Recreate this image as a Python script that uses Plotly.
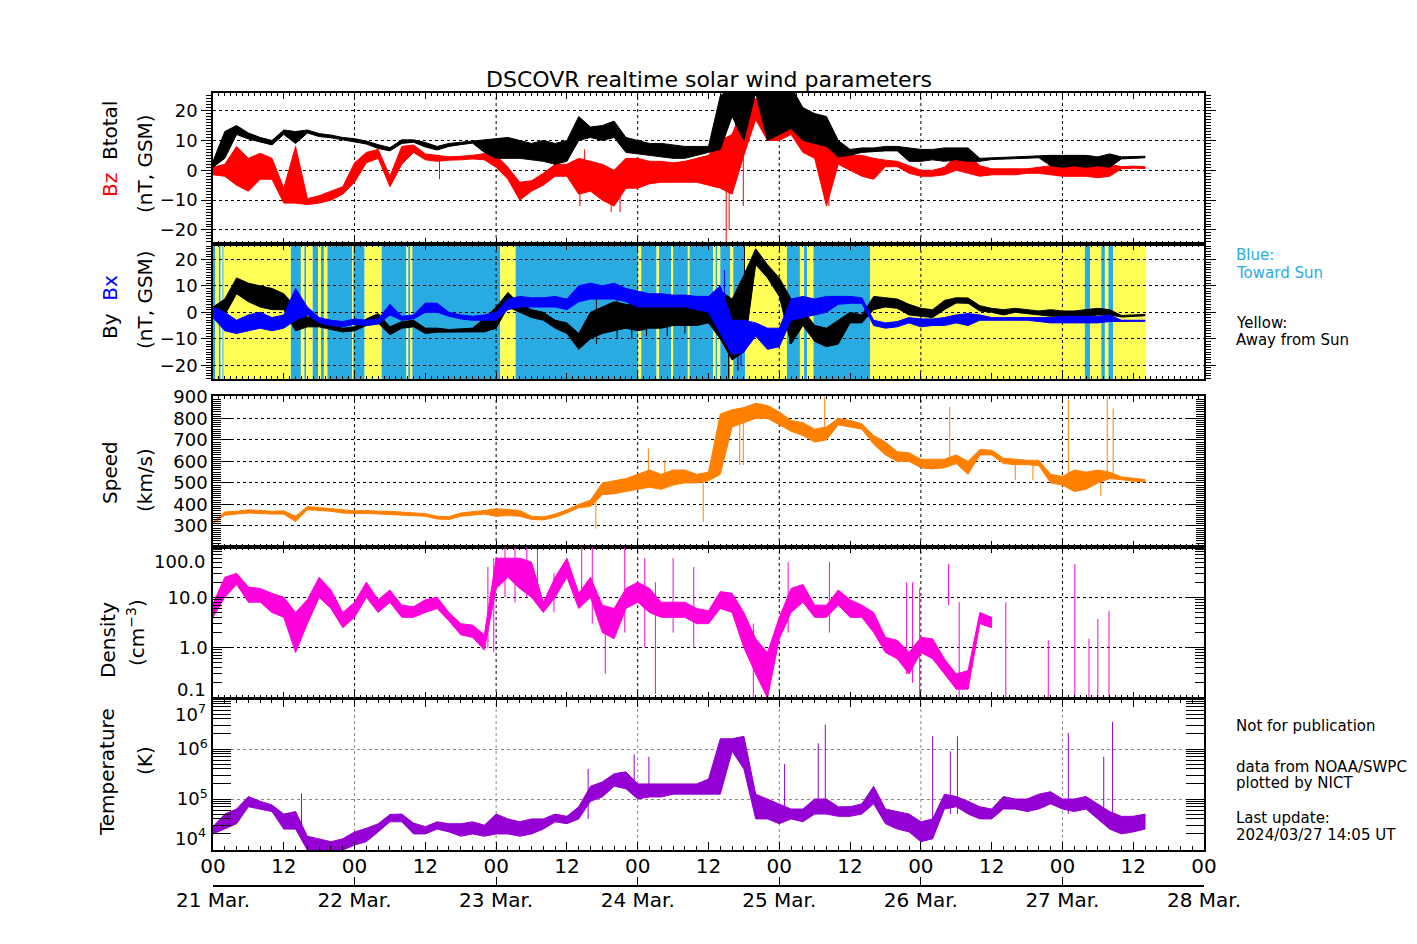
from datetime import datetime, timedelta

import plotly.graph_objects as go

T0 = datetime(2024, 3, 21)
T_END = datetime(2024, 3, 28)

# sample grid, hours after 21 Mar 00 UT (one band point every 2 h)
HOURS = list(range(0, 159, 2))

# Btotal (nT) min / max in each 2 h window
BTOTAL_LO = [1, 4, 12, 10.5, 9.5, 8.5, 12, 9, 12.5, 11.3,
             10.9, 10.2, 9.6, 8.8, 7.3, 6.5, 9, 9.4, 7.8, 6.8,
             8, 8.6, 9.1, 6, 4, 4, 4, 3.5, 3, 2,
             3, 10, 11, 10, 11, 6, 5.5, 5, 4.5, 4,
             4, 5, 6, 7, 18, 10, 26, 10, 12, 14,
             10, 9, 8, 4.5, 5, 6, 6.3, 6.5, 6.5, 3,
             3, 3.5, 3, 3.5, 3, 3, 3.6, 3.8, 4, 4.1,
             4.2, 1.5, 1, 1.5, 1, 1.5, 1, 3.8, 4, 4.2]
BTOTAL_HI = [3, 13, 15, 12.5, 11, 10, 13.5, 13, 13.5, 12.3,
             11.8, 11, 10.6, 9.8, 8.6, 7.6, 10.2, 10.2, 9.3, 8,
             9, 9.4, 9.8, 10, 10.5, 11, 10, 9, 10, 9,
             10, 18, 14.5, 15, 16.5, 11, 10, 9, 9, 8.5,
             8, 8, 8, 25, 28, 28, 30, 28, 28, 28,
             21, 19, 18, 10, 7, 7.5, 7.5, 8, 8, 7.5,
             7, 7, 7.5, 7.5, 7.5, 4, 4.2, 4.4, 4.6, 4.7,
             4.8, 5, 5, 5, 5, 4.5, 5.5, 4.5, 4.6, 4.7]

# Bz GSM (nT)
BZ_LO = [-1.5, -2, -5, -7, -3, -3, -11, -11, -11.5, -11,
         -10, -8, -4, 2.5, 4, -5.5, 2, 6, 3.5, 3,
         3.4, 3.5, 3.8, 3.5, 1, -3, -10, -7, -5, -2,
         -2, -8, -7, -10, -12, -6, -6, -4.5, -4, -4,
         -4, -4, -5, -6, -8, 5, 17, 10, 10, 12,
         6, 4, -12, 2, 0, -2, -3, 1.2, 1.2, -1,
         -2, -2, -1.5, 0, -1, -2, -1.5, -1.5, -1.5, -1,
         -1, -1.5, -2, -2, -2, -2.5, -2, 0.5, 0.7, 0.6]
BZ_HI = [1, 2, 8, 4, 5.7, 4, -6, 8, -9.5, -8.5,
         -7, -5.5, 2.5, 6, 7, -2, 8, 8.5, 5.5, 5,
         4.5, 4.7, 5, 5.6, 5, 1, -4, -3.5, -1, 2,
         2, 4, 3, 2, 0, 4, 4, 3, 3, 2.5,
         3, 4, 5, 10, 12, 22, 24, 24, 22, 22,
         19, 18, 10, 8, 5, 5, 4, 3.4, 3, 1.5,
         0, 0, 1, 5, 5.7, 1.5, 0.5, 0.5, 0.5, 0.5,
         1, 1.5, 2, 2, 2, 2, 2, 1.2, 1.4, 1.2]
BZ_SPIKE_H = [38.4, 62.2, 63.0, 67.5, 69.0, 87.0, 87.5, 88.6, 89.9, 104.4]
BZ_SPIKE_LO = [-3, -12, 0, -14, -14, -24, -20, 0, -12, -12]
BZ_SPIKE_HI = [3.5, 0, 7, -5, -8, -5, 0, 25, 8, 3]

# By GSM (nT)
BY_LO = [-2, -1, 7, 4, 2, 1, 1, -7, -5.5, -5.5,
         -6.5, -7.4, -7, -5, -4, -8.5, -6, -5.5, -8, -7.5,
         -7.5, -7.4, -7.4, -7.4, -6, 2, 0, -2, -3, -6,
         -8, -14, -10, -8, -7, -6, -7, -6, -6, -5,
         -5, -5, -4, -10, -18, -15, 18, 13, 6, -12,
         -5, -11, -13, -12, -4, -4, 1, 2, 1.5, -1,
         -1.5, -2, 1, 3.5, 3.4, 0.5, 0, -1, 0, -0.5,
         -1, -1.5, -1.5, -2, -1.5, -1, -1, -1.8, -1.5, -1.3]
BY_HI = [2, 5, 13, 11, 10, 9, 7, 2, -1.7, -2.5,
         -5, -6, -5.5, -2.5, -0.5, -5.5, -3.5, -3, -6, -6,
         -6.5, -6.2, -6, -2.3, 2, 7.5, 3, 1, 0, -3,
         -4, -8, 0, 2, 4, 3, 3, 4, 3, 3,
         3, 3, 3, 8, 5, 14, 24, 18, 13, 5,
         1, -5, -6, -3, 0, -1, 6, 5.5, 5, 3,
         1.5, 1, 4.5, 5.5, 5.4, 2.5, 1.5, 1, 1.5, 1,
         0.5, 1, 0.5, 0.5, 1, 1.5, 1, -1.2, -1, -0.8]
BY_SPIKE_H = [65.0, 68.5, 71.0, 73.5, 77.0, 80.0, 87.4, 89.0, 90.1, 97.8]
BY_SPIKE_LO = [-12, -10, -10, -9, -9, -8, -25, -22, 10, -12]
BY_SPIKE_HI = [6, 8, 7, 7, 6, 5, -10, 0, 25, 0]

# Bx GSM (nT)
BX_LO = [-2, -7, -8, -7, -6, -7, -6, -3, -1, -4,
         -5, -5.5, -4.5, -5, -4.5, -1, -3, -2.5, 0, 0,
         -1.5, -2.5, -3, -3, -3, 1, 2, 2, 2, 2,
         1, 4, 5, 5, 5, 4, 2, 2, 2, 2,
         2, 1, 0, -8, -16, -15, -9, -14, -13, -3,
         -2, -1, 0, 3, 3.4, 3.4, -5, -6, -5.5, -4,
         -5.5, -5, -5, -4, -5, -3, -3, -3, -3, -3,
         -3.5, -4, -4, -4, -4, -4, -3.5, -3.5, -3.5, -3.4]
BX_HI = [2, 0, -3, -1, 0, -2, -1, 9, 2, -2,
         -3, -3.5, -2.5, -3, -2.5, 3, -1.5, -1, 3.5, 3.4,
         0, -1, -1.5, -1, 0, 5, 6, 5.5, 5.5, 6,
         5, 10, 11, 10, 11, 9, 8, 7, 7, 6.5,
         6.5, 6, 6, 10, -3, -3, -4, -6, -6, 5,
         6, 5, 6, 6, 6, 5.5, -3, -4, -3.5, -2,
         -2.5, -2.5, -2, -1, -0.5, -1, -2, -2, -2, -2,
         -2, -2, -1.5, -1.5, -1.5, -1.5, -1, -3, -3, -3]
BX_SPIKE_H = [86.7, 87.4, 89.5]
BX_SPIKE_LO = [0, -14, -20]
BX_SPIKE_HI = [16, -2, -8]

# IMF sector: boundaries (hours) and polarity, T = toward sun, A = away
SECTOR_EDGES = [0, 0.4, 1.0, 1.3, 1.6, 1.8, 13.2, 14.9, 15.5, 15.8,
                16.9, 17.8, 18.3, 18.8, 19.4, 23.6, 23.8, 25.7, 28.6, 32.8,
                33.1, 33.4, 33.8, 48.7, 51.3, 72.1, 72.6, 75.2, 75.6, 77.7,
                78.0, 80.5, 80.8, 84.8, 85.2, 85.5, 86.0, 87.7, 88.2, 90.2,
                97.3, 99.5, 100.2, 100.7, 101.8, 111.4, 147.8, 148.7, 150.6, 151.2,
                151.8, 152.6, 158.2]
SECTOR_POL = ["T", "A", "T", "A", "T", "A", "T", "A", "T", "A",
              "T", "A", "T", "A", "T", "A", "T", "A", "T", "A",
              "T", "A", "T", "A", "T", "A", "T", "A", "T", "A",
              "T", "A", "T", "A", "T", "A", "T", "A", "T", "A",
              "T", "A", "T", "A", "T", "A", "T", "A", "T", "A",
              "T", "A"]

# bulk speed (km/s)
SPEED_LO = [310, 350, 355, 360, 358, 355, 355, 320, 375, 372,
            368, 360, 358, 358, 358, 355, 350, 348, 345, 332,
            330, 345, 350, 355, 345, 348, 345, 330, 328, 340,
            360, 385, 390, 445, 450, 460, 470, 480, 470, 490,
            500, 500, 510, 540, 760, 780, 800, 800, 770, 740,
            720, 690, 700, 770, 760, 750, 680, 630, 600, 600,
            570, 565, 570, 590, 540, 630, 630, 590, 585, 585,
            580, 500, 490, 460, 470, 500, 520, 515, 508, 505]
SPEED_HI = [318, 365, 368, 375, 372, 368, 370, 345, 390, 385,
            380, 375, 370, 372, 368, 368, 365, 360, 357, 345,
            343, 360, 365, 372, 380, 375, 372, 345, 342, 355,
            375, 400, 420, 500, 510, 520, 540, 560, 540, 560,
            560, 540, 550, 820, 840, 850, 870, 860, 830, 790,
            780, 750, 760, 800, 790, 775, 720, 690, 645, 640,
            610, 610, 610, 630, 600, 655, 652, 615, 610, 605,
            605, 540, 530, 560, 550, 560, 550, 528, 522, 515]
SPEED_SPIKE_H = [64.9, 73.8, 76.6, 83.1, 89.3, 89.9, 103.7, 124.9, 136.0, 139.0,
                 145.0, 150.5, 151.6, 152.6]
SPEED_SPIKE_LO = [288, 500, 500, 320, 583, 583, 720, 590, 513, 513,
                  500, 440, 540, 540]
SPEED_SPIKE_HI = [420, 660, 606, 540, 780, 780, 900, 853, 600, 600,
                  884, 540, 900, 846]

# proton density (cm^-3), None = no data
DENS_LO = [4, 10, 18, 8, 8, 5, 4, 0.8, 3, 10,
           6, 2.5, 4, 10, 5, 8, 4, 4, 5, 6,
           3.4, 1.8, 1.6, 0.9, 15, 25, 15, 10, 5, 10,
           25, 6, 10, 2, 1.5, 6, 8, 5, 4, 4,
           4, 3, 3, 6, 5, 1, 0.3, 0.1, 1.5, 5,
           8, 4, 4, 7, 4, 4, 2, 0.8, 0.6, 0.3,
           0.8, 0.6, 0.3, 0.15, 0.15, 3, 2.5, None, None, None,
           None, None, None, None, None, None, None, None, None, None]
DENS_HI = [7.5, 25, 30, 16, 15, 12, 10, 5, 9, 25,
           14, 5, 8, 20, 9, 14, 7, 6.5, 9, 10,
           5, 3, 2.8, 1.8, 60, 60, 60, 50, 8, 25,
           60, 12, 25, 7, 6, 15, 20, 15, 8, 8,
           8, 6, 5.4, 13, 12, 5, 1.5, 0.8, 4, 15,
           18, 7, 7, 14, 9, 7, 5, 1.6, 1.4, 0.8,
           1.6, 1.5, 0.6, 0.3, 0.35, 5, 4, None, None, None,
           None, None, None, None, None, None, None, None, None, None]
DENS_SPIKE_H = [46.6, 47.6, 49.5, 51.2, 53.2, 55.0, 57.8, 62.5, 64.3, 66.5,
                69.8, 73.2, 75.0, 78.0, 81.5, 91.6, 97.5, 104.5, 117.6, 118.6,
                119.8, 124.7, 126.5, 134.4, 141.6, 146.1, 148.5, 150.0, 151.9]
DENS_SPIKE_LO = [1, 0.8, 10, 8, 10, 8, 5, 10, 3, 0.3,
                 2, 1, 0.12, 2, 1, 0.1, 2, 2, 0.3, 0.2,
                 0.1, 7, 0.1, 0.1, 0.1, 0.1, 0.1, 0.1, 0.1]
DENS_SPIKE_HI = [40, 60, 100, 100, 100, 100, 30, 100, 100, 3,
                 100, 60, 20, 60, 40, 3, 50, 50, 20, 20,
                 15, 46, 8, 8, 1.4, 46, 1.5, 3.7, 5.4]

# proton temperature (K)
TEMP_LO = [2.0e4, 2.5e4, 3.2e4, 7.0e4, 6.3e4, 5.6e4, 2.5e4, 2.5e4, 0.95e4, 0.95e4,
           0.95e4, 0.95e4, 1.2e4, 1.4e4, 2.2e4, 3.5e4, 3.5e4, 2.0e4, 2.0e4, 2.5e4,
           2.2e4, 1.8e4, 2.0e4, 1.8e4, 2.0e4, 2.0e4, 1.8e4, 2.0e4, 2.5e4, 3.5e4,
           3.2e4, 4.0e4, 9.0e4, 1.1e5, 1.8e5, 1.6e5, 1.0e5, 1.1e5, 1.1e5, 1.25e5,
           1.25e5, 1.25e5, 1.25e5, 1.25e5, 9.0e5, 4.0e5, 4.0e4, 4.0e4, 3.2e4, 4.0e4,
           3.5e4, 5.0e4, 5.0e4, 4.5e4, 4.5e4, 5.0e4, 8.0e4, 3.2e4, 2.5e4, 2.2e4,
           1.4e4, 1.6e4, 6.3e4, 7.0e4, 5.0e4, 4.0e4, 4.0e4, 6.3e4, 6.3e4, 5.6e4,
           6.3e4, 8.0e4, 6.3e4, 5.6e4, 6.3e4, 4.0e4, 2.5e4, 2.0e4, 2.2e4, 2.5e4]
TEMP_HI = [2.8e4, 5.0e4, 6.3e4, 1.12e5, 9.0e4, 7.6e4, 5.0e4, 5.6e4, 1.8e4, 1.6e4,
           1.4e4, 1.6e4, 2.2e4, 2.6e4, 3.2e4, 4.9e4, 5.0e4, 3.3e4, 2.8e4, 3.5e4,
           3.2e4, 3.2e4, 3.5e4, 3.0e4, 5.0e4, 4.0e4, 3.5e4, 4.0e4, 4.0e4, 5.0e4,
           4.5e4, 7.0e4, 1.8e5, 2.2e5, 3.2e5, 3.5e5, 2.0e5, 2.0e5, 2.0e5, 2.0e5,
           2.0e5, 2.0e5, 2.5e5, 1.6e6, 1.6e6, 1.8e6, 1.25e5, 1.0e5, 8.0e4, 6.3e4,
           6.3e4, 1.0e5, 1.0e5, 7.0e4, 7.0e4, 8.0e4, 1.8e5, 6.3e4, 5.6e4, 5.0e4,
           3.5e4, 4.0e4, 1.25e5, 1.12e5, 9.0e4, 7.0e4, 6.3e4, 1.12e5, 1.0e5, 1.0e5,
           1.25e5, 1.4e5, 1.0e5, 1.0e5, 1.12e5, 8.0e4, 5.6e4, 4.5e4, 4.5e4, 5.0e4]
TEMP_SPIKE_H = [15.0, 63.6, 71.4, 73.9, 96.9, 102.6, 103.8, 122.0, 125.0, 126.2,
                145.0, 151.0, 152.5]
TEMP_SPIKE_LO = [3e4, 4e4, 1.2e5, 1.2e5, 4e4, 5e4, 6e4, 2e4, 5e4, 5e4,
                 5e4, 5e4, 3e4]
TEMP_SPIKE_HI = [1.3e5, 4e5, 7.8e5, 7e5, 5e5, 1.3e6, 3.1e6, 1.8e6, 9e5, 1.8e6,
                 2.1e6, 7e5, 3.5e6]

DAY_LABELS = ["21 Mar.", "22 Mar.", "23 Mar.", "24 Mar.", "25 Mar.", "26 Mar.", "27 Mar.", "28 Mar."]

FONT = "DejaVu Sans"
C_BZ = "#ff0000"
C_BX = "#0000ff"
C_SPEED = "#ff8000"
C_DENS = "#ff00dd"
C_TEMP = "#9400d3"
C_TOWARD = "#29abe2"
C_AWAY = "#ffff55"

# page geometry in pixels; the page body adds an 8 px offset around the figure
PAGE_W, PAGE_H, BODY = 1417, 944, 8
PLOT_L, PLOT_R, PLOT_T, PLOT_B = 213, 1204, 93, 886


def t(h):
    return T0 + timedelta(hours=h)


def py(y):
    return (PLOT_B - y) / (PLOT_B - PLOT_T)


def px(x):
    return (x - PLOT_L) / (PLOT_R - PLOT_L)


def xn(k):
    return "x" if k == 1 else f"x{k}"


def yn(k):
    return "y" if k == 1 else f"y{k}"


def band_xy(hours, lo, hi):
    xs, ys, seg = [], [], []

    def flush():
        if seg:
            xs.extend([t(h) for h, _, _ in seg] + [t(h) for h, _, _ in reversed(seg)] + [None])
            ys.extend([b for _, _, b in seg] + [a for _, a, _ in reversed(seg)] + [None])
            seg.clear()

    for h, a, b in zip(hours, lo, hi):
        if a is None or b is None:
            flush()
        else:
            seg.append((h, a, b))
    flush()
    return xs, ys


def spike_xy(hours, lo, hi):
    xs, ys = [], []
    for h, a, b in zip(hours, lo, hi):
        xs += [t(h), t(h), None]
        ys += [a, b, None]
    return xs, ys


def add_band(fig, lo, hi, color, k):
    xs, ys = band_xy(HOURS, lo, hi)
    fig.add_trace(go.Scatter(x=xs, y=ys, mode="lines", fill="toself", fillcolor=color,
                             line={"color": color, "width": 1}, xaxis=xn(k), yaxis=yn(k),
                             showlegend=False, hoverinfo="skip"))


def add_spikes(fig, hours, lo, hi, color, k):
    xs, ys = spike_xy(hours, lo, hi)
    fig.add_trace(go.Scatter(x=xs, y=ys, mode="lines", line={"color": color, "width": 1},
                             xaxis=xn(k), yaxis=yn(k), showlegend=False, hoverinfo="skip"))


fig = go.Figure()

# sector background in the By/Bx panel
for i, pol in enumerate(SECTOR_POL):
    fig.add_shape(type="rect", xref="x2", yref="y2 domain",
                  x0=t(SECTOR_EDGES[i]), x1=t(SECTOR_EDGES[i + 1]), y0=0, y1=1,
                  fillcolor=C_TOWARD if pol == "T" else C_AWAY, line_width=0, layer="below")

# daily vertical grid lines
for k in range(1, 6):
    for d in range(1, 7):
        fig.add_shape(type="line", xref=xn(k), yref=f"{yn(k)} domain",
                      x0=t(24 * d), x1=t(24 * d), y0=0, y1=1, layer="below",
                      line={"color": "#888888" if k == 5 else "black", "width": 1, "dash": "dot"})

add_band(fig, BZ_LO, BZ_HI, C_BZ, 1)
add_spikes(fig, BZ_SPIKE_H, BZ_SPIKE_LO, BZ_SPIKE_HI, C_BZ, 1)
add_band(fig, BTOTAL_LO, BTOTAL_HI, "black", 1)

add_band(fig, BY_LO, BY_HI, "black", 2)
add_spikes(fig, BY_SPIKE_H, BY_SPIKE_LO, BY_SPIKE_HI, "black", 2)
add_band(fig, BX_LO, BX_HI, C_BX, 2)
add_spikes(fig, BX_SPIKE_H, BX_SPIKE_LO, BX_SPIKE_HI, C_BX, 2)

add_band(fig, SPEED_LO, SPEED_HI, C_SPEED, 3)
add_spikes(fig, SPEED_SPIKE_H, SPEED_SPIKE_LO, SPEED_SPIKE_HI, C_SPEED, 3)

add_band(fig, DENS_LO, DENS_HI, C_DENS, 4)
add_spikes(fig, DENS_SPIKE_H, DENS_SPIKE_LO, DENS_SPIKE_HI, C_DENS, 4)

add_band(fig, TEMP_LO, TEMP_HI, C_TEMP, 5)
add_spikes(fig, TEMP_SPIKE_H, TEMP_SPIKE_LO, TEMP_SPIKE_HI, C_TEMP, 5)

# carrier for the date axis under the bottom panel
fig.add_trace(go.Scatter(x=[T0, T_END], y=[2e4, 2e4], mode="lines", opacity=0,
                         xaxis="x6", yaxis="y5", showlegend=False, hoverinfo="skip"))

HOUR_MS = 3600 * 1000
tick_font = {"family": FONT, "size": 18, "color": "black"}


def xax(k, labels=False):
    ax = dict(anchor=yn(k), domain=[0, 1], range=[T0, T_END], showline=True, linecolor="black",
              linewidth=1.5, mirror="allticks", ticks="inside", tickcolor="black", tick0=T0,
              dtick=12 * HOUR_MS, ticklen=6, showgrid=False, zeroline=False, automargin=False,
              showticklabels=labels,
              minor={"dtick": HOUR_MS, "ticks": "inside", "ticklen": 3, "tickcolor": "black"})
    if labels:
        ax.update(tickformat="%H", ticklen=8, ticklabelstandoff=-3,
                  tickfont={"family": FONT, "size": 20, "color": "black"},
                  minor={"dtick": 2 * HOUR_MS, "ticks": "inside", "ticklen": 4, "tickcolor": "black"})
    return ax


def yax(k, top, bottom, ticks, grid="black", **kw):
    ax = dict(anchor=xn(k), domain=[py(bottom), py(top)], showline=True, linecolor="black",
              linewidth=1.5, mirror="allticks", ticks=ticks, tickcolor="black", zeroline=False,
              showgrid=True, gridcolor=grid, griddash="dot", gridwidth=1, tickfont=tick_font,
              automargin=False)
    ax.update(kw)
    return ax


def log_minor(decades):
    return [m * 10 ** e for e in decades for m in range(2, 10)]


layout_axes = {
    "xaxis": xax(1), "xaxis2": xax(2), "xaxis3": xax(3), "xaxis4": xax(4), "xaxis5": xax(5, True),
    "xaxis6": dict(overlaying="x5", anchor="free", position=0, side="bottom", range=[T0, T_END],
                   tickmode="array", tickvals=[t(24 * d) for d in range(8)], ticktext=DAY_LABELS,
                   ticks="inside", ticklen=8, tickcolor="black", showline=True, linecolor="black",
                   linewidth=1.5, showgrid=False, zeroline=False, automargin=False,
                   ticklabelstandoff=-4,
                   tickfont={"family": FONT, "size": 20, "color": "black"}),
    "yaxis": yax(1, 93, 244, "outside", range=[-24.7, 25.9], tick0=0, dtick=10, ticklen=10,
                 minor={"dtick": 1, "ticks": "outside", "ticklen": 5, "tickcolor": "black"}),
    "yaxis2": yax(2, 244, 379, "outside", range=[-25.2, 25.8], tick0=0, dtick=10, ticklen=10,
                  minor={"dtick": 1, "ticks": "outside", "ticklen": 5, "tickcolor": "black"}),
    "yaxis3": yax(3, 396, 547, "inside", range=[202, 904], tick0=0, dtick=100, ticklen=18,
                  minor={"dtick": 10, "ticks": "inside", "ticklen": 8, "tickcolor": "black"}),
    "yaxis4": yax(4, 547, 698, "inside", type="log", range=[-1, 2], tickmode="array",
                  tickvals=[1, 10], ticktext=["1.0", "10.0"], ticklen=18,
                  minor={"tickmode": "array", "tickvals": log_minor([-1, 0, 1]), "ticks": "inside",
                         "ticklen": 9, "tickcolor": "black"}),
    "yaxis5": yax(5, 699, 850, "inside", grid="#888888", type="log", range=[3.98, 7.0],
                  tickmode="array", tickvals=[1e5, 1e6],
                  ticktext=["10<sup>5</sup>", "10<sup>6</sup>"], ticklen=18,
                  minor={"tickmode": "array", "tickvals": log_minor([4, 5, 6]), "ticks": "inside",
                         "ticklen": 9, "tickcolor": "black"}),
}

annotations = [
    dict(text="DSCOVR realtime solar wind parameters", x=0.5, y=py(80), xref="paper", yref="paper",
         showarrow=False, xanchor="center", yanchor="middle", font={"family": FONT, "size": 22}),
]

# end labels of the log axes, nudged inside the panel like the original
for text, yref, yv, shift in [("100.0", "y4", 2, -14), ("0.1", "y4", -1, 9),
                              ("10<sup>7</sup>", "y5", 7, -14), ("10<sup>4</sup>", "y5", 4, 12)]:
    annotations.append(dict(text=text, xref="paper", x=0, xshift=-5, yref=yref, y=yv, yshift=shift,
                            showarrow=False, xanchor="right", yanchor="middle", font=tick_font))

axis_titles = [
    ('<span style="color:#ff0000">Bz</span>  Btotal', 110, 149),
    ("(nT, GSM)", 145, 164),
    ('By  <span style="color:#0000ff">Bx</span>', 110, 307),
    ("(nT, GSM)", 145, 300),
    ("Speed", 110, 473),
    ("(km/s)", 145, 480),
    ("Density", 108, 640),
    ("(cm<sup>−3</sup>)", 136, 633),
    ("Temperature", 107, 772),
    ("(K)", 145, 761),
]
for text, x, y in axis_titles:
    annotations.append(dict(text=text, xref="paper", x=px(x), yref="paper", y=py(y), textangle=-90,
                            showarrow=False, xanchor="center", yanchor="middle",
                            font={"family": FONT, "size": 20, "color": "black"}))

side_notes = [
    ("Blue:", 255, C_TOWARD), ("Toward Sun", 273, C_TOWARD),
    ("Yellow:", 323, "black"), ("Away from Sun", 340, "black"),
    ("Not for publication", 726, "black"),
    ("data from NOAA/SWPC", 767, "black"), ("plotted by NICT", 783, "black"),
    ("Last update:", 818, "black"), ("2024/03/27 14:05 UT", 835, "black"),
]
for text, y, color in side_notes:
    annotations.append(dict(text=text, xref="paper", x=px(1234), yref="paper", y=py(y),
                            showarrow=False, xanchor="left", yanchor="middle",
                            font={"family": FONT, "size": 15, "color": color}))

fig.update_layout(
    width=PAGE_W - BODY, height=PAGE_H - BODY, autosize=False,
    margin={"l": PLOT_L - BODY, "r": PAGE_W - PLOT_R, "t": PLOT_T - BODY, "b": PAGE_H - PLOT_B,
            "pad": 0},
    paper_bgcolor="white", plot_bgcolor="white",
    font={"family": FONT, "color": "black"},
    showlegend=False,
    annotations=annotations,
    **layout_axes,
)

fig.write_html("out.html")
